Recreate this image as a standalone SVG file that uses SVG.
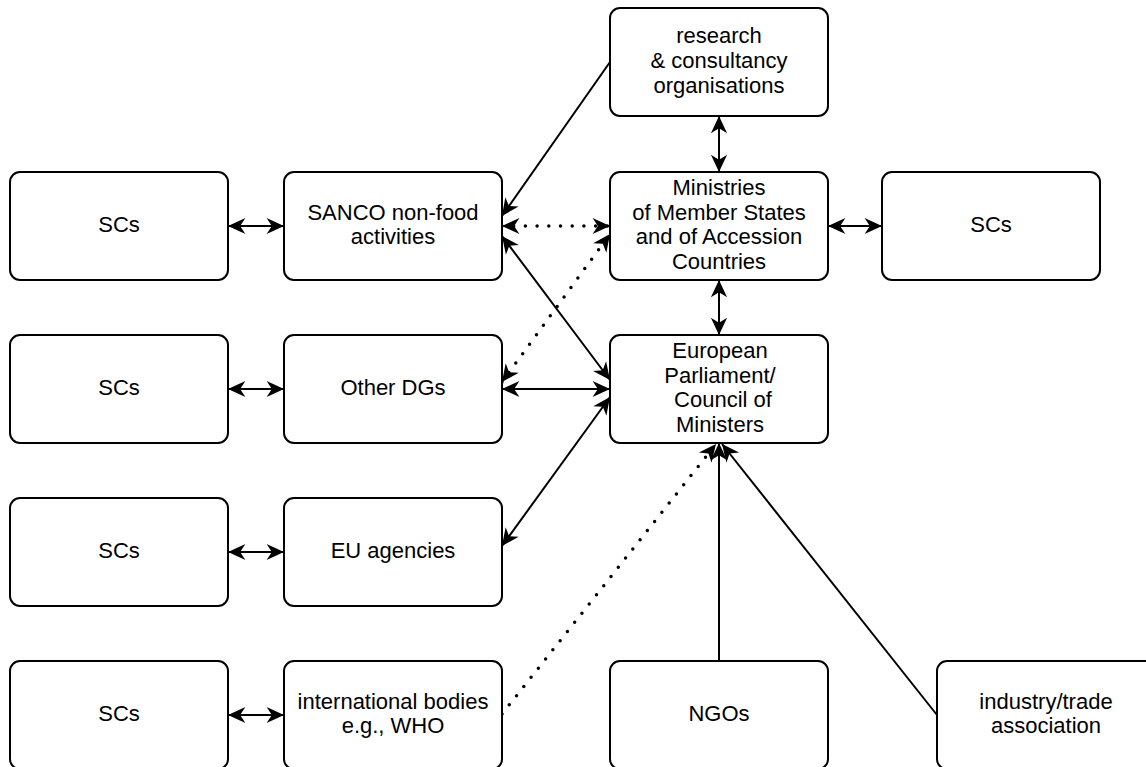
<svg xmlns="http://www.w3.org/2000/svg" width="1146" height="767" viewBox="0 0 1146 767">
<style>
.box{fill:#fff;stroke:#000;stroke-width:2}
.t{font-family:"Liberation Sans",Arial,Helvetica,sans-serif;font-size:22px;fill:#000;text-anchor:middle}
.c{fill:none;stroke:#000;stroke-width:2}
.d{fill:none;stroke:#000;stroke-width:3.5;stroke-dasharray:0 11.7;stroke-linecap:round}
</style>
<defs>
<marker id="ah" markerUnits="userSpaceOnUse" markerWidth="22" markerHeight="22" viewBox="-17 -9 19 18" refX="0" refY="0" orient="auto-start-reverse">
<path d="M0,0 L-15,-7 L-10.5,0 L-15,7 Z" fill="#000"/>
</marker>
</defs>
<rect width="1146" height="767" fill="#fff"/>
<g id="connectors">
<path class="c" d="M228,226 H284" marker-start="url(#ah)" marker-end="url(#ah)"/>
<path class="c" d="M228,389 H284" marker-start="url(#ah)" marker-end="url(#ah)"/>
<path class="c" d="M228,552 H284" marker-start="url(#ah)" marker-end="url(#ah)"/>
<path class="c" d="M228,715 H284" marker-start="url(#ah)" marker-end="url(#ah)"/>
<path class="c" d="M828,226 H882" marker-start="url(#ah)" marker-end="url(#ah)"/>
<path class="c" d="M719,116 V172" marker-start="url(#ah)" marker-end="url(#ah)"/>
<path class="c" d="M719,280 V335" marker-start="url(#ah)" marker-end="url(#ah)"/>
<path class="c" d="M502,236 L610,380" marker-start="url(#ah)" marker-end="url(#ah)"/>
<path class="c" d="M610,62 L502,216" marker-end="url(#ah)"/>
<path class="d" d="M502,226 H610" marker-start="url(#ah)" marker-end="url(#ah)"/>
<path class="d" d="M502,382 L610,234" marker-start="url(#ah)" marker-end="url(#ah)"/>
<path class="c" d="M502,389 H610" marker-start="url(#ah)" marker-end="url(#ah)"/>
<path class="c" d="M502,546 L610,397" marker-start="url(#ah)" marker-end="url(#ah)"/>
<path class="d" d="M502,714 L716,444" marker-end="url(#ah)"/>
<path class="c" d="M719,661 V443" marker-end="url(#ah)"/>
<path class="c" d="M937,715 L722,444" marker-end="url(#ah)"/>
</g>
<g id="research"><rect class="box" x="610" y="8" width="218" height="108" rx="10"/><text class="t" x="719" y="43.4">research</text><text class="t" x="719" y="68">&amp; consultancy</text><text class="t" x="719" y="92.6">organisations</text></g>
<g id="scs1"><rect class="box" x="10" y="172" width="218" height="108" rx="10"/><text class="t" x="119" y="232">SCs</text></g>
<g id="sanco"><rect class="box" x="284" y="172" width="218" height="108" rx="10"/><text class="t" x="393" y="219.7">SANCO non-food</text><text class="t" x="393" y="244.3">activities</text></g>
<g id="ministries"><rect class="box" x="610" y="172" width="218" height="108" rx="10"/><text class="t" x="719" y="195.1">Ministries</text><text class="t" x="719" y="219.7">of Member States</text><text class="t" x="719" y="244.3">and of Accession</text><text class="t" x="719" y="268.9">Countries</text></g>
<g id="scs-right"><rect class="box" x="882" y="172" width="218" height="108" rx="10"/><text class="t" x="991" y="232">SCs</text></g>
<g id="scs2"><rect class="box" x="10" y="335" width="218" height="108" rx="10"/><text class="t" x="119" y="395">SCs</text></g>
<g id="other-dgs"><rect class="box" x="284" y="335" width="218" height="108" rx="10"/><text class="t" x="393" y="395">Other DGs</text></g>
<g id="parliament"><rect class="box" x="610" y="335" width="218" height="108" rx="10"/><text class="t" x="720" y="358.1">European</text><text class="t" x="720" y="382.7">Parliament/</text><text class="t" x="723" y="407.3">Council of</text><text class="t" x="720" y="431.9">Ministers</text></g>
<g id="scs3"><rect class="box" x="10" y="498" width="218" height="108" rx="10"/><text class="t" x="119" y="558">SCs</text></g>
<g id="eu-agencies"><rect class="box" x="284" y="498" width="218" height="108" rx="10"/><text class="t" x="393" y="558">EU agencies</text></g>
<g id="scs4"><rect class="box" x="10" y="661" width="218" height="108" rx="10"/><text class="t" x="119" y="721">SCs</text></g>
<g id="international"><rect class="box" x="284" y="661" width="218" height="108" rx="10"/><text class="t" x="393" y="708.7">international bodies</text><text class="t" x="393" y="733.3">e.g., WHO</text></g>
<g id="ngos"><rect class="box" x="610" y="661" width="218" height="108" rx="10"/><text class="t" x="719" y="721">NGOs</text></g>
<g id="industry"><rect class="box" x="937" y="661" width="218" height="108" rx="10"/><text class="t" x="1046" y="708.7">industry/trade</text><text class="t" x="1046" y="733.3">association</text></g>
</svg>
